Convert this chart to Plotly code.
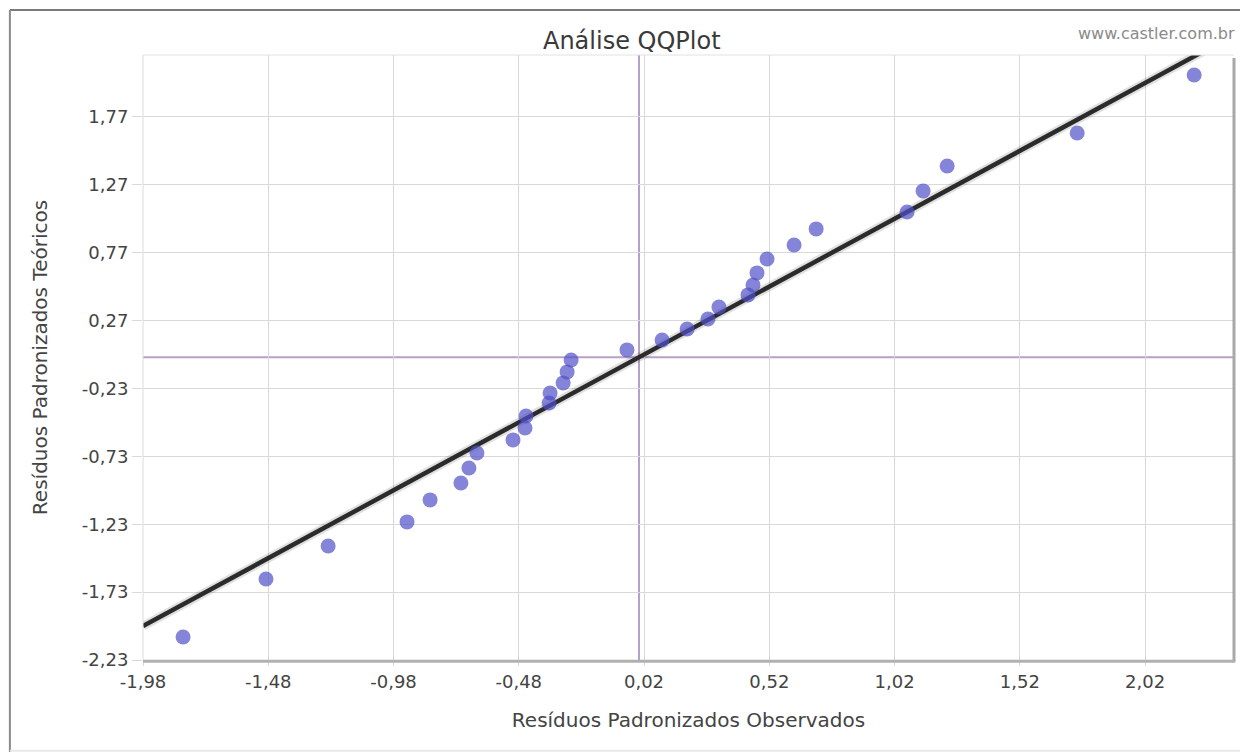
import plotly.graph_objects as go

# Observed standardized residuals (x) and theoretical quantiles (y)
obs = [-1.820, -1.489, -1.241, -0.926, -0.834, -0.711, -0.679, -0.647,
       -0.503, -0.455, -0.451, -0.359, -0.355, -0.303, -0.287, -0.271,
       -0.048, 0.092, 0.192, 0.275, 0.319, 0.435, 0.455, 0.471,
       0.511, 0.619, 0.707, 1.070, 1.134, 1.230, 1.749, 2.216]
teo = [-2.061, -1.633, -1.390, -1.213, -1.051, -0.926, -0.816, -0.705,
       -0.609, -0.521, -0.433, -0.337, -0.263, -0.189, -0.108, -0.020,
       0.054, 0.127, 0.208, 0.282, 0.370, 0.459, 0.532, 0.621,
       0.724, 0.827, 0.945, 1.070, 1.225, 1.409, 1.652, 2.079]

# Reference line (y = x)
ref_x = [-1.98, 2.32]
ref_y = [-1.98, 2.32]

x_ticks = [-1.98, -1.48, -0.98, -0.48, 0.02, 0.52, 1.02, 1.52, 2.02]
x_labels = ["-1,98", "-1,48", "-0,98", "-0,48", "0,02", "0,52", "1,02", "1,52", "2,02"]
y_ticks = [-2.23, -1.73, -1.23, -0.73, -0.23, 0.27, 0.77, 1.27, 1.77]
y_labels = ["-2,23", "-1,73", "-1,23", "-0,73", "-0,23", "0,27", "0,77", "1,27", "1,77"]

FONT = "DejaVu Sans"

fig = go.Figure()

# shadow of reference line
fig.add_trace(go.Scatter(x=ref_x, y=ref_y, mode="lines",
                         line=dict(color="rgba(0,0,0,0.12)", width=9),
                         hoverinfo="skip", showlegend=False))
fig.add_trace(go.Scatter(x=ref_x, y=ref_y, mode="lines",
                         line=dict(color="#2b2b2b", width=4.5),
                         hoverinfo="skip", showlegend=False))
fig.add_trace(go.Scatter(x=obs, y=teo, mode="markers",
                         marker=dict(size=15, color="rgba(80,80,200,0.7)",
                                     line=dict(width=0)),
                         showlegend=False))

# purple zero lines
fig.add_hline(y=0, line=dict(color="#b7a0c8", width=2), layer="below")
fig.add_vline(x=0, line=dict(color="#b7a0c8", width=2), layer="below")

# plot border (light top/left, shadowed right/bottom)
fig.add_shape(type="line", xref="paper", yref="paper", x0=0, x1=1, y0=1, y1=1,
              line=dict(color="#e2e2e2", width=1))
fig.add_shape(type="line", xref="paper", yref="paper", x0=0, x1=0, y0=0, y1=1,
              line=dict(color="#dcdcdc", width=1))
fig.add_shape(type="line", xref="paper", yref="paper", x0=1, x1=1, y0=-0.004, y1=0.995,
              line=dict(color="#a8a8a8", width=3))
fig.add_shape(type="line", xref="paper", yref="paper", x0=0, x1=1, y0=-0.002, y1=-0.002,
              line=dict(color="#b0b0b0", width=3))

# outer frame
fig.add_shape(type="line", xref="paper", yref="paper", x0=-0.122, x1=1.05, y0=1.0744, y1=1.0744,
              line=dict(color="#7a7a7a", width=2))
fig.add_shape(type="line", xref="paper", yref="paper", x0=-0.122, x1=-0.122, y0=-0.152, y1=1.0744,
              line=dict(color="#8a8a8a", width=2))
fig.add_shape(type="line", xref="paper", yref="paper", x0=-0.122, x1=1.05, y0=-0.150, y1=-0.150,
              line=dict(color="#e8e8e8", width=2))

fig.add_annotation(text="www.castler.com.br", xref="paper", yref="paper",
                   x=0.855, y=1.036, xanchor="left", yanchor="middle",
                   showarrow=False, font=dict(family=FONT, size=16, color="#8a8a8a"))

fig.update_layout(
    width=1240, height=747,
    margin=dict(l=135, r=14, t=47, b=95),
    paper_bgcolor="white", plot_bgcolor="white",
    title=dict(text="Análise QQPlot", x=0.448, xref="paper", xanchor="center",
               y=0.957, yanchor="middle",
               font=dict(family=FONT, size=24, color="#3a3a3a")),
    font=dict(family=FONT, color="#444"),
    xaxis=dict(range=[-1.98, 2.375], tickvals=x_ticks, ticktext=x_labels,
               showgrid=True, gridcolor="#d9d9d9", gridwidth=1,
               zeroline=False, showline=False,
               ticks="outside", ticklen=5, tickcolor="#d9d9d9",
               tickfont=dict(family=FONT, size=18, color="#444"),
               title=dict(text="Resíduos Padronizados Observados",
                          font=dict(family=FONT, size=20, color="#444"), standoff=22)),
    yaxis=dict(range=[-2.23, 2.226], tickvals=y_ticks, ticktext=y_labels,
               showgrid=True, gridcolor="#d9d9d9", gridwidth=1,
               zeroline=False, showline=False,
               ticks="outside", ticklen=10, tickcolor="#d9d9d9",
               tickfont=dict(family=FONT, size=18, color="#444"),
               title=dict(text="Resíduos Padronizados Teóricos",
                          font=dict(family=FONT, size=20, color="#444"), standoff=28)),
)

fig.write_html("out.html")
